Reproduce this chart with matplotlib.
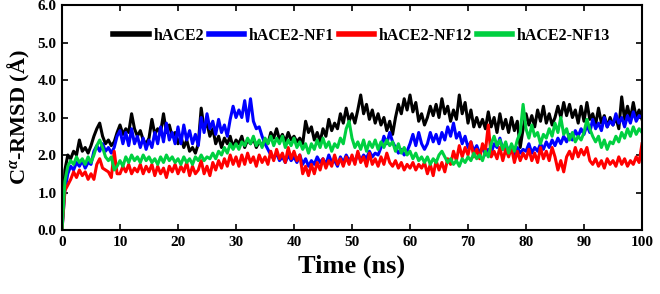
import numpy as np
import matplotlib
matplotlib.use("Agg")
import matplotlib.pyplot as plt

plt.rcParams['font.family'] = ['Liberation Serif', 'DejaVu Serif']
plt.rcParams['font.weight'] = 'bold'
plt.rcParams['mathtext.fontset'] = 'custom'
plt.rcParams['mathtext.rm'] = 'Liberation Serif'
plt.rcParams['mathtext.it'] = 'Liberation Serif:italic'
plt.rcParams['mathtext.bf'] = 'Liberation Serif:bold'

# time axis (ns), sampled every 0.5 ns
time_ns = np.arange(0, 100.5, 0.5)

# RMSD values (Å), one row per 5 ns
hace2 = [
    0.0, 1.6, 2.0, 1.9, 2.1, 2.0, 2.4, 2.1, 2.2, 2.05,
    2.25, 2.5, 2.7, 2.85, 2.5, 2.3, 2.4, 2.25, 2.35, 2.6,
    2.8, 2.55, 2.7, 2.6, 3.1, 2.7, 2.5, 2.65, 2.4, 2.3,
    2.45, 2.95, 2.55, 2.7, 2.6, 3.1, 2.6, 2.8, 2.5, 2.6,
    2.3, 2.5, 2.2, 2.4, 2.1, 2.2, 2.05, 2.3, 3.25, 2.7,
    2.85, 2.5, 2.7, 2.3, 2.5, 2.2, 2.45, 2.3, 2.5, 2.2,
    2.4, 2.3, 2.5, 2.2, 2.4, 2.3, 2.45, 2.2, 2.35, 2.25,
    2.4, 2.3, 2.6, 2.45, 2.7, 2.4, 2.55, 2.35, 2.6, 2.4,
    2.5, 2.35, 2.45, 2.3, 2.9, 2.6, 2.75, 2.4, 2.6, 2.35,
    2.7, 2.5, 2.95, 2.65, 2.85, 2.7, 3.1, 2.85, 3.25, 2.9,
    3.1, 2.85, 3.2, 3.6, 3.1, 3.35, 2.95, 3.2, 2.85, 3.1,
    2.8, 3.0, 2.65, 2.9, 2.55, 3.0, 3.35, 3.1, 3.5, 3.2,
    3.6, 3.15, 3.4, 2.9, 3.1, 2.8, 3.0, 3.3, 3.05, 3.35,
    3.0, 3.5, 3.1, 3.3, 2.9, 3.2, 2.95, 3.6, 3.1, 3.4,
    2.85, 3.2, 2.75, 3.0, 2.75, 2.95, 2.7, 3.15, 2.75, 3.0,
    2.6, 3.1, 2.7, 2.95, 2.6, 3.0, 2.65, 2.9, 2.2, 2.7,
    3.1, 2.8, 3.05, 2.75, 3.2, 2.9, 3.3, 2.85, 3.1, 2.8,
    3.0, 3.3, 3.0, 3.4, 3.05, 3.35, 3.0, 3.2, 2.85, 3.3,
    2.9, 3.4, 2.95, 3.1, 2.8, 3.25, 2.85, 3.05, 2.75, 3.0,
    2.8, 3.0, 2.7, 3.55, 2.95, 3.3, 2.95, 3.4, 3.0, 3.2,
    2.95,
]

hace2_nf1 = [
    0.0, 1.05, 1.5, 1.7, 1.6, 1.8, 1.7, 1.85, 1.65, 1.8,
    1.75, 2.1, 2.25, 2.1, 2.3, 2.1, 2.2, 2.05, 2.2, 2.5,
    2.65, 2.3, 2.6, 2.25, 2.7, 2.3, 2.5, 2.2, 2.45, 2.15,
    2.4, 2.2, 2.6, 2.3, 2.75, 2.35, 2.85, 2.4, 2.6, 2.3,
    2.75, 2.3, 2.8, 2.4, 2.65, 2.3, 2.55, 2.25, 3.0, 2.6,
    3.1, 2.7, 2.9, 2.55, 2.95, 2.6, 2.8, 2.5, 2.95, 3.3,
    3.0, 3.2, 3.0, 3.45, 2.9, 3.5, 2.9, 2.7, 2.75, 2.5,
    2.3, 2.15, 2.0, 1.9, 2.05, 1.85, 1.95, 1.8, 2.0, 1.85,
    1.95, 1.8, 2.0, 1.75, 1.9, 1.7, 1.85, 1.75, 1.95, 1.8,
    1.9, 1.75, 2.0, 1.8, 1.85, 1.7, 1.95, 1.8, 2.0, 1.85,
    1.95, 1.8, 2.05, 1.85, 2.0, 1.9, 2.1, 1.95, 2.05, 2.0,
    2.2, 2.5, 2.3, 2.6, 2.35, 2.2, 2.05, 2.15, 2.0, 2.1,
    2.3, 2.55, 2.25, 2.6, 2.3, 2.15, 2.3, 2.6, 2.35, 2.55,
    2.3, 2.6, 2.4, 2.75, 2.5, 2.85, 2.45, 2.6, 2.3, 2.5,
    2.2, 2.35, 2.1, 2.25, 2.05, 2.2, 2.0, 2.15, 2.05, 2.3,
    2.2, 2.45, 2.15, 2.3, 2.1, 2.25, 2.0, 2.2, 2.05, 2.15,
    2.1, 2.3, 2.05, 2.2, 2.1, 2.3, 2.15, 2.35, 2.2, 2.4,
    2.25, 2.45, 2.3, 2.5, 2.35, 2.55, 2.4, 2.65, 2.5, 2.7,
    2.55, 2.8, 2.6, 2.95, 2.7, 2.85, 2.65, 3.0, 2.75, 2.9,
    2.8, 3.1, 2.85, 3.0, 2.75, 3.05, 2.85, 3.15, 2.9, 3.05,
    3.0,
]

hace2_nf12 = [
    0.0, 1.05, 1.2, 1.35, 1.55, 1.4, 1.6, 1.45, 1.55, 1.35,
    1.5, 1.35, 1.75, 1.9, 1.65, 1.6, 1.55, 1.4, 2.1, 1.5,
    1.5, 1.7, 1.55, 1.75, 1.5, 1.65, 1.55, 1.75, 1.5, 1.7,
    1.55, 1.75, 1.45, 1.7, 1.5, 1.65, 1.4, 1.7, 1.55, 1.75,
    1.5, 1.7, 1.55, 1.8, 1.45, 1.7, 1.5, 1.6, 1.85, 1.5,
    1.7, 1.45, 1.8, 1.6, 1.85, 1.65, 1.9, 1.7, 2.0, 1.75,
    1.95, 1.7, 2.0, 1.75, 2.05, 1.8, 1.95, 1.7, 2.0, 1.8,
    1.95, 1.75, 2.1, 1.85, 2.15, 1.9, 2.05, 1.8, 2.2, 1.9,
    2.1, 1.85, 2.0, 1.5, 1.7, 1.45, 1.75, 1.5, 1.8, 1.6,
    1.9, 1.65, 1.85, 1.7, 2.0, 1.75, 1.9, 1.7, 1.95, 1.75,
    2.0, 1.75, 2.1, 1.8, 1.95, 1.7, 2.05, 1.75, 1.9, 1.7,
    1.95, 1.75, 2.05, 1.8, 1.7, 1.85, 1.65, 1.8, 1.6, 1.75,
    1.65, 1.8, 1.6, 1.75, 1.65, 1.8, 1.5, 1.75, 1.45, 1.85,
    1.6, 1.8, 1.55, 1.9, 1.75, 2.1, 1.85, 2.25, 1.95, 2.2,
    2.0, 2.35, 1.95, 2.15, 1.9, 2.3, 2.1, 2.8, 1.95, 2.1,
    1.9, 2.2, 1.85, 2.15, 1.95, 2.2, 1.8, 2.1, 1.85, 2.05,
    1.9, 2.15, 1.85, 2.05, 1.8, 2.2, 1.9, 2.1, 1.85, 2.2,
    1.95, 1.6, 1.85, 1.55, 1.95, 2.1, 1.9, 2.2, 1.95, 2.15,
    2.0, 2.2, 1.85, 1.75, 1.9, 1.7, 1.85, 1.65, 1.9, 1.75,
    1.85, 1.7, 1.95, 1.75, 1.9, 1.7, 1.85, 1.75, 1.95, 1.8,
    2.3,
]

hace2_nf13 = [
    0.0, 1.3, 1.7, 1.85, 1.75, 1.95, 1.8, 1.9, 1.75, 1.95,
    1.8, 2.0, 2.25, 2.4, 2.2, 1.95, 1.85, 1.95, 1.6, 1.7,
    1.85, 1.7, 1.95, 1.8, 2.0, 1.85, 1.95, 1.8, 2.0, 1.85,
    1.95, 1.8, 1.9, 1.75, 1.95, 1.8, 2.0, 1.85, 1.95, 1.8,
    1.9, 1.75, 1.95, 1.8, 1.9, 1.75, 1.95, 1.85, 2.0, 1.85,
    1.95, 1.9, 2.05, 1.9, 2.1, 2.0, 2.2, 2.05, 2.3, 2.15,
    2.3, 2.15, 2.35, 2.25, 2.45, 2.3, 2.5, 2.25, 2.4, 2.2,
    2.45, 2.3, 2.5, 2.25, 2.45, 2.3, 2.5, 2.2, 2.4, 2.25,
    2.45, 2.2, 2.35, 2.15, 2.3, 2.05, 2.3, 2.15, 2.4, 2.2,
    2.45, 2.2, 2.35, 2.1, 2.3, 2.2, 2.45, 2.3, 2.7, 2.9,
    2.45, 2.2, 2.35, 2.15, 2.4, 2.1, 2.35, 2.2, 2.4, 2.15,
    2.35, 2.2, 2.4, 2.25, 2.35, 2.1, 2.3, 2.05, 2.2, 2.0,
    2.1, 1.9, 2.05, 1.85, 1.95, 1.8, 1.95, 1.75, 1.9, 1.8,
    2.0, 2.1, 1.95, 1.8, 1.9, 1.75, 1.85, 1.7, 1.9, 1.8,
    1.95, 1.85, 2.05, 1.9, 2.0, 1.85, 2.1, 1.95, 2.3, 2.5,
    2.25, 2.4, 2.15, 2.35, 2.05, 2.3, 2.1, 2.4, 2.6, 3.35,
    2.7, 2.45, 2.8, 2.5, 2.6, 2.3, 2.55, 2.45, 2.7, 2.5,
    2.85, 2.6, 3.0, 2.55, 2.7, 2.4, 2.6, 2.35, 2.5, 2.4,
    2.6, 2.95, 2.7, 2.5, 2.35, 2.5, 2.2, 2.4, 2.15, 2.35,
    2.3, 2.5, 2.35, 2.6, 2.45, 2.7, 2.5, 2.75, 2.55, 2.7,
    2.6,
]

series_names = ['hACE2', 'hACE2-NF1', 'hACE2-NF12', 'hACE2-NF13']
series_values = [hace2, hace2_nf1, hace2_nf12, hace2_nf13]
colors = ['#000000', '#0000FF', '#FF0000', '#00D040']

x_ticks = [0, 10, 20, 30, 40, 50, 60, 70, 80, 90, 100]
y_ticks = [0.0, 1.0, 2.0, 3.0, 4.0, 5.0, 6.0]

fig = plt.figure(figsize=(6.6, 2.94), dpi=100)
ax = fig.add_axes([62 / 660, 64 / 294, 580 / 660, 225 / 294])

for name, vals, c in zip(series_names, series_values, colors):
    ax.plot(time_ns, vals, color=c, linewidth=2.2, label=name)

ax.set_xlim(0, 100)
ax.set_ylim(0, 6)
ax.set_xticks(x_ticks)
ax.set_yticks(y_ticks)
ax.set_yticklabels([f'{v:.1f}' for v in y_ticks])
ax.tick_params(direction='in', length=4, width=1.2, top=True, right=True,
               labelsize=11, pad=4)
for lab in ax.get_xticklabels() + ax.get_yticklabels():
    lab.set_fontweight('bold')
for sp in ax.spines.values():
    sp.set_linewidth(1.5)

ax.set_xlabel('Time (ns)', fontsize=19, fontweight='bold', labelpad=4)
ax.set_ylabel('C$^{\\alpha}$-RMSD (Å)', fontsize=16, fontweight='bold', labelpad=4)

leg = ax.legend(loc='center', bbox_to_anchor=(0.517, 0.862), ncol=4,
                frameon=False, handlelength=2.2,
                handletextpad=0.3, columnspacing=0.3,
                prop={'weight': 'bold', 'size': 11.5})
for line in leg.get_lines():
    line.set_linewidth(4)

fig.savefig('out.png', dpi=100)
